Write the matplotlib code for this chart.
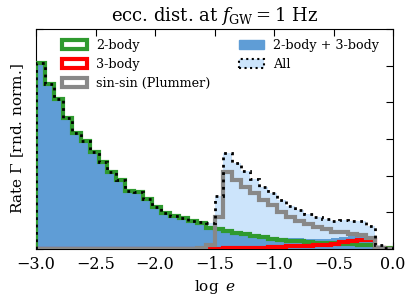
import numpy as np
import matplotlib.pyplot as plt
from matplotlib.patches import Patch

plt.rcParams['font.family'] = 'DejaVu Serif'
plt.rcParams['mathtext.fontset'] = 'dejavuserif'

# 40 bins in log e from -3 to 0
bin_edges = np.linspace(-3.0, 0.0, 41)

two_body = [5.07, 4.50, 4.09, 3.57, 3.16, 2.95, 2.65, 2.37, 2.10, 1.87,
            1.59, 1.54, 1.35, 1.14, 0.99, 0.90, 0.84, 0.77, 0.70, 0.57,
            0.55, 0.50, 0.44, 0.40, 0.35, 0.32, 0.28, 0.25, 0.23, 0.21,
            0.19, 0.17, 0.16, 0.15, 0.14, 0.13, 0.12, 0.10, 0.04, 0.02]
three_body = [0.0, 0.0, 0.0, 0.0, 0.0, 0.0, 0.0, 0.0, 0.0, 0.0,
              0.0, 0.0, 0.0, 0.0, 0.0, 0.0, 0.005, 0.005, 0.01, 0.01,
              0.01, 0.015, 0.02, 0.02, 0.03, 0.04, 0.05, 0.06, 0.07, 0.08,
              0.09, 0.10, 0.12, 0.14, 0.18, 0.22, 0.25, 0.24, 0.03, 0.01]
sin_sin = [0.0, 0.0, 0.0, 0.0, 0.0, 0.0, 0.0, 0.0, 0.0, 0.0,
           0.0, 0.0, 0.0, 0.0, 0.0, 0.0, 0.0, 0.0, 0.02, 0.12,
           0.88, 2.11, 1.88, 1.70, 1.52, 1.34, 1.20, 1.02, 0.86, 0.77,
           0.68, 0.61, 0.54, 0.47, 0.46, 0.42, 0.38, 0.29, 0.03, 0.01]

two_body = np.array(two_body)
three_body = np.array(three_body)
sin_sin = np.array(sin_sin)
two_plus_three = two_body + three_body
all_channels = two_body + three_body + sin_sin

c_green = '#2f9a2f'
c_red = '#ff0000'
c_grey = '#888888'
c_blue = '#5f9dd6'
c_light = '#cce4fb'

fig = plt.figure(figsize=(4.15, 3.04), dpi=100)
ax = fig.add_axes([0.087, 0.181, 0.860, 0.724])

ax.stairs(all_channels, bin_edges, fill=True, color=c_light, zorder=1)
ax.stairs(two_plus_three, bin_edges, fill=True, color=c_blue, zorder=2)
ax.stairs(two_body, bin_edges, color=c_green, lw=3, zorder=3)
ax.stairs(three_body, bin_edges, color=c_red, lw=3, zorder=4)
ax.stairs(sin_sin, bin_edges, color=c_grey, lw=3, zorder=5)
ax.stairs(all_channels, bin_edges, color='k', lw=2, ls=':', zorder=6)

ax.set_xlim(-3.0, 0.0)
ax.set_ylim(0, 6)
ax.set_xticks([-3.0, -2.5, -2.0, -1.5, -1.0, -0.5, 0.0])
ax.set_yticks(range(7))
ax.set_yticklabels([])
ax.tick_params(direction='in', top=True, right=True, length=5, labelsize=11.5)
ax.tick_params(axis='x', pad=5)
ax.set_xlabel(r'$\log\ e$', fontsize=11)
ax.set_ylabel(r'Rate $\Gamma$ [rnd. norm.]', fontsize=11)
ax.set_title(r'ecc. dist. at $f_{\rm GW}=1$ Hz', fontsize=13)

handles = [Patch(fc='white', ec=c_green, lw=3, label='2-body'),
           Patch(fc='white', ec=c_red, lw=3, label='3-body'),
           Patch(fc='white', ec=c_grey, lw=3, label='sin-sin (Plummer)'),
           Patch(fc=c_blue, ec=c_blue, label='2-body + 3-body'),
           Patch(fc=c_light, ec='k', ls=':', lw=1.5, label='All')]
ax.legend(handles=handles, ncol=2, frameon=False, fontsize=9.2,
          loc='upper left', bbox_to_anchor=(0.04, 1.005), columnspacing=2.2,
          handlelength=2.0, handletextpad=0.7, labelspacing=0.45)

plt.savefig('out.png', dpi=100)
